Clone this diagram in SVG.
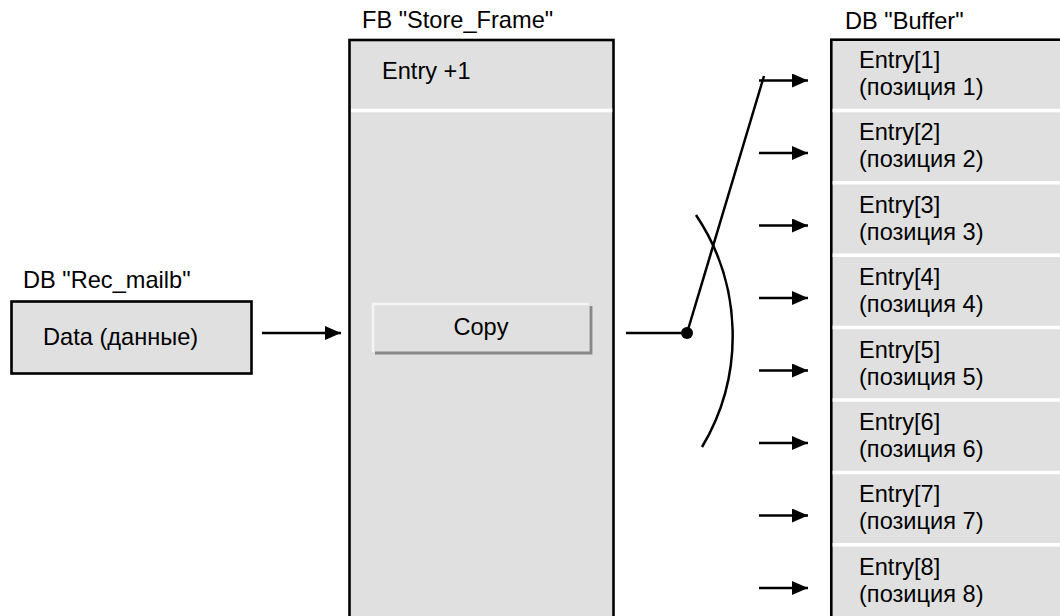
<svg xmlns="http://www.w3.org/2000/svg" width="1060" height="616" viewBox="0 0 1060 616">
  <defs>
    <marker id="arrow" viewBox="0 0 16 14" refX="16" refY="7" markerWidth="16" markerHeight="14" markerUnits="userSpaceOnUse" orient="auto">
      <path d="M0,0 L16,7 L0,14 Z" fill="#000"/>
    </marker>
    <style>
      text { font-family: "Liberation Sans", Arial, sans-serif; font-size: 23.6px; fill: #000; }
      .box { fill: #e0e0e0; stroke: #000; stroke-width: 2.6; }
      .sep { stroke: #fff; stroke-width: 3.5; }
      .wire { fill: none; stroke: #000; stroke-width: 2.5; }
      .arr { fill: none; stroke: #000; stroke-width: 2.5; marker-end: url(#arrow); }
    </style>
  </defs>
  <rect width="1060" height="616" fill="#fff"/>

  <!-- source data block -->
  <g id="rec_mailb">
    <text x="23" y="288">DB "Rec_mailb"</text>
    <rect class="box" x="11.5" y="301.5" width="240" height="72"/>
    <text x="43" y="345">Data (данные)</text>
  </g>

  <!-- function block -->
  <g id="store_frame">
    <text x="362" y="28">FB "Store_Frame"</text>
    <rect class="box" x="349.5" y="40" width="264" height="590"/>
    <line class="sep" x1="351" y1="110.5" x2="612.3" y2="110.5"/>
    <text x="382" y="79">Entry +1</text>
  </g>

  <!-- raised copy button -->
  <g id="copy">
    <rect x="372" y="303" width="219" height="51" fill="#e0e0e0"/>
    <polyline points="373,352 373,304 589,304" fill="none" stroke="#f4f4f4" stroke-width="2.5"/>
    <polyline points="375,353 591,353 591,306" fill="none" stroke="#888" stroke-width="2.8"/>
    <text x="481" y="335" text-anchor="middle">Copy</text>
  </g>

  <!-- buffer data block -->
  <g id="buffer">
    <text x="845" y="29">DB "Buffer"</text>
    <rect class="box" x="831.3" y="39.7" width="240" height="590"/>
    <g class="sep">
      <line x1="832.6" y1="110.4" x2="1060" y2="110.4"/>
      <line x1="832.6" y1="182.8" x2="1060" y2="182.8"/>
      <line x1="832.6" y1="255.2" x2="1060" y2="255.2"/>
      <line x1="832.6" y1="327.6" x2="1060" y2="327.6"/>
      <line x1="832.6" y1="400" x2="1060" y2="400"/>
      <line x1="832.6" y1="472.4" x2="1060" y2="472.4"/>
      <line x1="832.6" y1="544.8" x2="1060" y2="544.8"/>
    </g>
    <g id="entry1"><text x="859" y="68">Entry[1]</text><text x="859" y="95">(позиция 1)</text></g>
    <g id="entry2"><text x="859" y="140.4">Entry[2]</text><text x="859" y="167.4">(позиция 2)</text></g>
    <g id="entry3"><text x="859" y="212.8">Entry[3]</text><text x="859" y="239.8">(позиция 3)</text></g>
    <g id="entry4"><text x="859" y="285.2">Entry[4]</text><text x="859" y="312.2">(позиция 4)</text></g>
    <g id="entry5"><text x="859" y="357.6">Entry[5]</text><text x="859" y="384.6">(позиция 5)</text></g>
    <g id="entry6"><text x="859" y="430">Entry[6]</text><text x="859" y="457">(позиция 6)</text></g>
    <g id="entry7"><text x="859" y="502.4">Entry[7]</text><text x="859" y="529.4">(позиция 7)</text></g>
    <g id="entry8"><text x="859" y="574.8">Entry[8]</text><text x="859" y="601.8">(позиция 8)</text></g>
  </g>

  <!-- connectors -->
  <g id="connectors">
    <line class="arr" x1="262" y1="333" x2="341" y2="333"/>
    <line class="wire" x1="626" y1="333" x2="687" y2="333"/>
    <line class="wire" x1="687" y1="333" x2="764" y2="76"/>
    <circle cx="687" cy="333" r="6" fill="#000"/>
    <path class="wire" d="M696,215 A217,217 0 0 1 702,447"/>
    <line class="arr" x1="759" y1="80.5" x2="808" y2="80.5"/>
    <line class="arr" x1="759" y1="153" x2="808" y2="153"/>
    <line class="arr" x1="759" y1="225.5" x2="808" y2="225.5"/>
    <line class="arr" x1="759" y1="298" x2="808" y2="298"/>
    <line class="arr" x1="759" y1="370.5" x2="808" y2="370.5"/>
    <line class="arr" x1="759" y1="443" x2="808" y2="443"/>
    <line class="arr" x1="759" y1="515.5" x2="808" y2="515.5"/>
    <line class="arr" x1="759" y1="588" x2="808" y2="588"/>
  </g>
</svg>
